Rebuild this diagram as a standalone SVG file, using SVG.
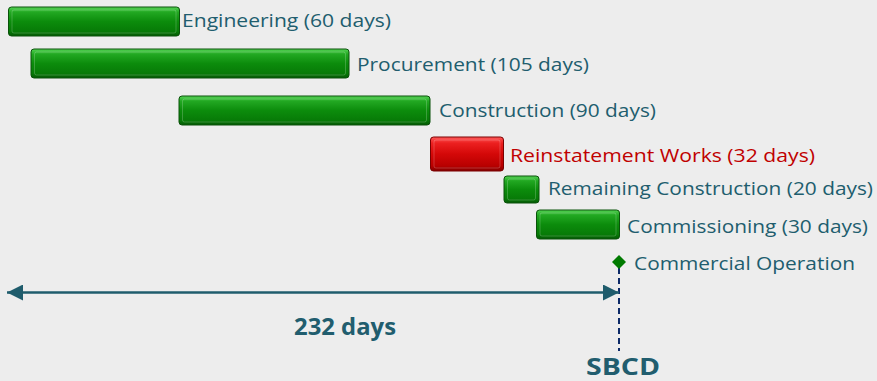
<svg xmlns="http://www.w3.org/2000/svg" width="877" height="381" viewBox="0 0 877 381">
<defs>
<linearGradient id="gG" x1="0" y1="0" x2="0" y2="1">
<stop offset="0" stop-color="#55d455"/>
<stop offset="0.18" stop-color="#22a822"/>
<stop offset="0.5" stop-color="#0c8c0c"/>
<stop offset="0.85" stop-color="#077a07"/>
<stop offset="1" stop-color="#045804"/>
</linearGradient>
<linearGradient id="gR" x1="0" y1="0" x2="0" y2="1">
<stop offset="0" stop-color="#ff5a5a"/>
<stop offset="0.18" stop-color="#ec2020"/>
<stop offset="0.5" stop-color="#d40808"/>
<stop offset="0.85" stop-color="#b80000"/>
<stop offset="1" stop-color="#850000"/>
</linearGradient>
<marker id="ah" viewBox="0 0 16 16" refX="16" refY="8" markerWidth="16" markerHeight="16" markerUnits="userSpaceOnUse" orient="auto-start-reverse">
<path d="M0,0 L16,8 L0,16 Z" fill="#1f5c6c"/>
</marker>
</defs>
<style>
.g{fill:url(#gG);stroke:#0a520a;stroke-width:1}
.r{fill:url(#gR);stroke:#7a0000;stroke-width:1}
.hl{fill:none;stroke:#ffffff;stroke-opacity:0.2;stroke-width:1}
.t{font-family:"Open Sans","Liberation Sans",sans-serif;font-size:19px;fill:#215d6e}
.tr{fill:#c00000}
.b{font-family:"Open Sans","Liberation Sans",sans-serif;font-size:24px;font-weight:bold;fill:#215d6e}
</style>
<rect width="877" height="381" fill="#ededed"/>
<g id="engineering">
<rect class="g" x="8.5" y="7" width="171" height="29" rx="3"/>
<rect class="hl" x="12" y="10" width="164" height="23" rx="2"/>
<text class="t" x="182" y="27" textLength="209" lengthAdjust="spacingAndGlyphs">Engineering (60 days)</text>
</g>
<g id="procurement">
<rect class="g" x="31" y="49" width="318" height="29" rx="3"/>
<rect class="hl" x="34.5" y="52" width="311" height="23" rx="2"/>
<text class="t" x="357" y="71" textLength="232" lengthAdjust="spacingAndGlyphs">Procurement (105 days)</text>
</g>
<g id="construction">
<rect class="g" x="179" y="96" width="251" height="29" rx="3"/>
<rect class="hl" x="182.5" y="99" width="244" height="23" rx="2"/>
<text class="t" x="439" y="117" textLength="217" lengthAdjust="spacingAndGlyphs">Construction (90 days)</text>
</g>
<g id="reinstatement">
<rect class="r" x="430.5" y="137" width="73" height="34" rx="3"/>
<rect class="hl" x="434" y="140" width="66" height="28" rx="2"/>
<text class="t tr" x="510" y="162" textLength="305" lengthAdjust="spacingAndGlyphs">Reinstatement Works (32 days)</text>
</g>
<g id="remaining">
<rect class="g" x="504" y="176" width="35" height="27" rx="3"/>
<rect class="hl" x="507.5" y="179" width="28" height="21" rx="2"/>
<text class="t" x="548" y="195" textLength="325" lengthAdjust="spacingAndGlyphs">Remaining Construction (20 days)</text>
</g>
<g id="commissioning">
<rect class="g" x="536.5" y="210" width="83" height="29" rx="3"/>
<rect class="hl" x="540" y="213" width="76" height="23" rx="2"/>
<text class="t" x="627" y="233" textLength="241" lengthAdjust="spacingAndGlyphs">Commissioning (30 days)</text>
</g>
<g id="connectors">
<line x1="619" y1="268" x2="619" y2="351" stroke="#0d2a68" stroke-width="2" stroke-dasharray="6,4"/>
<line x1="7" y1="292.5" x2="619" y2="292.5" stroke="#1f5c6c" stroke-width="2.5" marker-start="url(#ah)" marker-end="url(#ah)"/>
</g>
<g id="commercial">
<path d="M619,255 L626,262 L619,269 L612,262 Z" fill="#007a00"/>
<text class="t" x="634" y="270" textLength="221" lengthAdjust="spacingAndGlyphs">Commercial Operation</text>
</g>
<g id="duration">
<text class="b" x="294" y="335" textLength="102" lengthAdjust="spacingAndGlyphs">232 days</text>
</g>
<g id="sbcd">
<text class="b" x="586" y="375" font-size="21" textLength="74" lengthAdjust="spacingAndGlyphs">SBCD</text>
</g>
</svg>
